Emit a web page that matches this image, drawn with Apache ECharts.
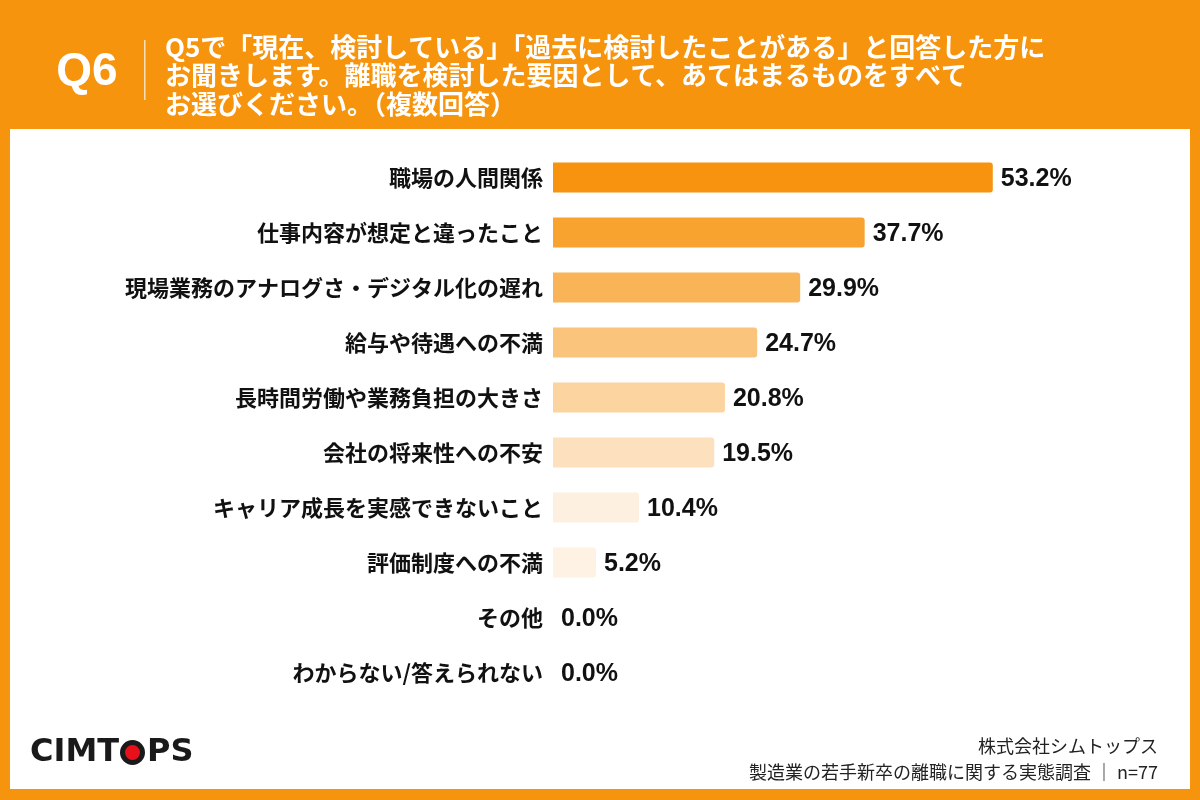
<!doctype html>
<html>
    <head>
        <meta charset="utf-8">
        <style>
            html, body { margin: 0; padding: 0; }
            #main { width: 1200px; height: 800px; }
        </style>
    </head>
    <body>
        <div id="main"></div>
        <script src="https://cdn.jsdelivr.net/npm/echarts@6/dist/echarts.min.js"></script>
        <script>
            var chart = echarts.init(document.getElementById('main'));

            var categories = [
                '職場の人間関係',
                '仕事内容が想定と違ったこと',
                '現場業務のアナログさ・デジタル化の遅れ',
                '給与や待遇への不満',
                '長時間労働や業務負担の大きさ',
                '会社の将来性への不安',
                'キャリア成長を実感できないこと',
                '評価制度への不満',
                'その他',
                'わからない/答えられない'
            ];
            var values = [53.2, 37.7, 29.9, 24.7, 20.8, 19.5, 10.4, 5.2, 0.0, 0.0];

            var titleLines = [
                'Q5で「現在、検討している」「過去に検討したことがある」と回答した方に',
                'お聞きします。離職を検討した要因として、あてはまるものをすべて',
                'お選びください。（複数回答）'
            ];
            var company = '株式会社シムトップス';
            var source = '製造業の若手新卒の離職に関する実態調査 ｜ n=77';

            var orange = '#F7940E';
            var barColors = ['#F7930F', '#F8A230', '#F9B457', '#FBC47D', '#FCD49F',
                '#FDE1BF', '#FEF0E0', '#FEF2E5', '#FEF4EA', '#FEF4EA'];
            var font = '"Noto Sans CJK JP", "Noto Sans", sans-serif';
            var latin = '"Liberation Sans", Arial, sans-serif';
            var logoFont = 'bold 32px "DejaVu Sans", sans-serif';

            chart.setOption({
                backgroundColor: orange,
                textStyle: { fontFamily: font },
                graphic: [
                    { type: 'rect', z: -1, shape: { x: 10, y: 129, width: 1180, height: 660 }, style: { fill: '#fff' } },
                    { type: 'text', x: 87, y: 72, style: { text: 'Q6', fill: '#fff', font: 'bold 46px ' + latin, align: 'center', verticalAlign: 'middle' } },
                    { type: 'rect', shape: { x: 144, y: 40, width: 1.5, height: 60 }, style: { fill: 'rgba(255,255,255,0.7)' } },
                    { type: 'text', x: 165, y: 47, style: { text: titleLines[0], fill: '#fff', font: 'bold 26px ' + font, verticalAlign: 'middle' } },
                    { type: 'text', x: 165, y: 75, style: { text: titleLines[1], fill: '#fff', font: 'bold 26px ' + font, verticalAlign: 'middle' } },
                    { type: 'text', x: 165, y: 104, style: { text: titleLines[2], fill: '#fff', font: 'bold 26px ' + font, verticalAlign: 'middle' } },
                    // logo
                    { type: 'text', x: 30, y: 753, style: { text: 'CIMT', fill: '#1a1a1a', font: logoFont, verticalAlign: 'middle' } },
                    { type: 'circle', shape: { cx: 132.5, cy: 752.5, r: 10 }, style: { fill: '#E8101A', stroke: '#1a1a1a', lineWidth: 5 } },
                    { type: 'text', x: 147, y: 753, style: { text: 'PS', fill: '#1a1a1a', font: logoFont, verticalAlign: 'middle' } },
                    { type: 'text', x: 1158, y: 746, style: { text: company, fill: '#222', font: '18px ' + font, align: 'right', verticalAlign: 'middle' } },
                    { type: 'text', x: 1158, y: 772, style: { text: source, fill: '#222', font: '18px ' + font, align: 'right', verticalAlign: 'middle' } }
                ],
                grid: { left: 553, top: 150, width: 496, height: 550, containLabel: false },
                xAxis: {
                    type: 'value',
                    min: 0,
                    max: 60,
                    show: false
                },
                yAxis: {
                    type: 'category',
                    data: categories,
                    inverse: true,
                    axisLine: { show: false },
                    axisTick: { show: false },
                    axisLabel: {
                        margin: 10,
                        color: '#111',
                        fontSize: 22,
                        fontWeight: 'bold',
                        fontFamily: font
                    }
                },
                series: [{
                    type: 'bar',
                    data: values,
                    barWidth: 30,
                    itemStyle: {
                        borderRadius: [0, 3, 3, 0],
                        color: function (p) { return barColors[p.dataIndex]; }
                    },
                    label: {
                        show: true,
                        position: 'right',
                        distance: 8,
                        offset: [0, 2],
                        color: '#111',
                        fontSize: 25,
                        fontWeight: 'bold',
                        fontFamily: latin,
                        formatter: function (p) { return p.value.toFixed(1) + '%'; }
                    },
                    silent: true
                }]
            });

            window.onresize = chart.resize;
        </script>
    </body>
</html>
